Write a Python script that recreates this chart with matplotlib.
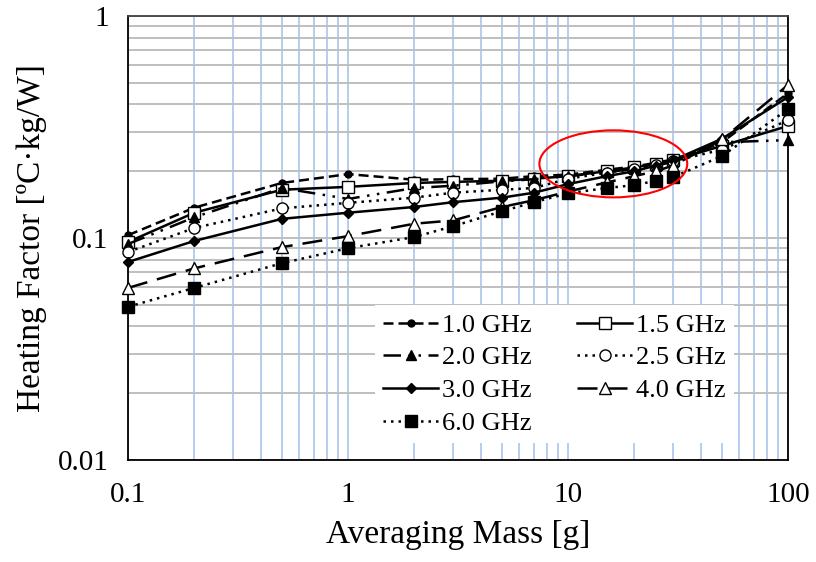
import matplotlib
matplotlib.use('Agg')
import matplotlib.pyplot as plt
from matplotlib.patches import Ellipse

plt.rcParams['font.family'] = ['Liberation Serif', 'DejaVu Serif']

# averaging mass [g]
mass = [0.1, 0.2, 0.5, 1, 2, 3, 5, 7, 10, 15, 20, 25, 30, 50, 100]

# heating factor [oC.kg/W] per frequency
hf_10 = [0.103, 0.137, 0.177, 0.194, 0.183, 0.184, 0.185, 0.190, 0.193, 0.203, 0.210, 0.218, 0.226, 0.270, 0.450]
hf_15 = [0.096, 0.130, 0.165, 0.170, 0.177, 0.179, 0.181, 0.185, 0.190, 0.200, 0.208, 0.216, 0.224, 0.260, 0.320]
hf_20 = [0.094, 0.124, 0.168, 0.150, 0.168, 0.172, 0.180, 0.184, 0.190, 0.198, 0.205, 0.212, 0.220, 0.270, 0.276]
hf_25 = [0.0865, 0.111, 0.136, 0.144, 0.152, 0.160, 0.165, 0.168, 0.185, 0.197, 0.205, 0.213, 0.222, 0.250, 0.340]
hf_30 = [0.078, 0.097, 0.122, 0.130, 0.138, 0.145, 0.152, 0.160, 0.175, 0.190, 0.200, 0.212, 0.224, 0.280, 0.432]
hf_40 = [0.0596, 0.073, 0.091, 0.102, 0.116, 0.120, 0.138, 0.148, 0.162, 0.178, 0.190, 0.200, 0.212, 0.278, 0.490]
hf_60 = [0.049, 0.0596, 0.077, 0.090, 0.101, 0.113, 0.132, 0.145, 0.159, 0.168, 0.173, 0.181, 0.188, 0.234, 0.381]

fig = plt.figure(figsize=(8.16, 5.62), dpi=100)
ax = fig.add_axes([0.157, 0.1815, 0.809, 0.79])
ax.set_xscale('log')
ax.set_yscale('log')
ax.set_xlim(0.1, 100)
ax.set_ylim(0.01, 1)

# grid: gray horizontals, light blue verticals
ax.grid(True, which='both', axis='y', color='#bfbfbf', lw=1.4)
ax.grid(True, which='both', axis='x', color='#a9c5eb', lw=1.2)
ax.set_axisbelow(True)

kw = dict(color='black', clip_on=False, zorder=3)
l10, = ax.plot(mass, hf_10, ls=(0, (4, 2)), lw=1.8, marker='o', ms=5, mfc='black', label='1.0 GHz', **kw)
l15, = ax.plot(mass, hf_15, ls='-', lw=1.8, marker='s', ms=8, mfc='white', mew=1, label='1.5 GHz', **kw)
l20, = ax.plot(mass, hf_20, ls=(0, (7, 3, 1, 3, 1, 3)), lw=1.8, marker='^', ms=7, mfc='black', label='2.0 GHz', **kw)
l25, = ax.plot(mass, hf_25, ls=(0, (1, 2)), lw=1.8, marker='o', ms=8, mfc='white', mew=1, label='2.5 GHz', **kw)
l30, = ax.plot(mass, hf_30, ls='-', lw=1.8, marker='D', ms=5, mfc='black', label='3.0 GHz', **kw)
l40, = ax.plot(mass, hf_40, ls=(0, (8, 4)), lw=1.8, marker='^', ms=8, mfc='white', mew=1, label='4.0 GHz', **kw)
l60, = ax.plot(mass, hf_60, ls=(0, (1, 2)), lw=1.8, marker='s', ms=8, mfc='black', label='6.0 GHz', **kw)

# red highlight ellipse
ax.add_patch(Ellipse((0.735, 0.667), 0.224, 0.151, transform=ax.transAxes,
                     fill=False, edgecolor='red', lw=1.5, zorder=4))

for s in ax.spines.values():
    s.set_color('black')
    s.set_linewidth(1.3)
ax.spines['top'].set_color('#404040')

ax.set_xticks([0.1, 1, 10, 100])
ax.set_xticklabels(['0.1', '1', '10', '100'])
ax.set_yticks([0.01, 0.1, 1])
ax.set_yticklabels(['0.01', '0.1', '1'])
ax.tick_params(which='both', length=0, labelsize=21, pad=14)
ax.tick_params(axis='x', pad=16)
ax.minorticks_on()
ax.tick_params(which='minor', length=0, labelbottom=False, labelleft=False)

ax.set_xlabel('Averaging Mass [g]', fontsize=24, labelpad=8)
ax.set_ylabel('Heating Factor [ºC·kg/W]', fontsize=24, labelpad=8)

handles = [l10, l20, l30, l60, l15, l25, l40]
leg = ax.legend(handles=handles, ncol=2, loc='upper left', bbox_to_anchor=(0.354, 0.378),
                fontsize=19, frameon=True, facecolor='white', edgecolor='none', framealpha=1,
                handlelength=2.1, handletextpad=0.15, columnspacing=1.7, labelspacing=0.35,
                borderpad=0.3, fancybox=False)
leg.set_zorder(5)

fig.savefig('out.png', dpi=100)
